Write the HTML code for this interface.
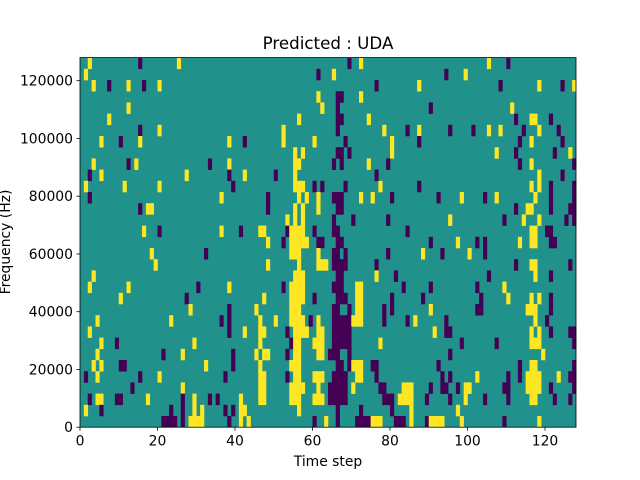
<!DOCTYPE html>
<html><head><meta charset="utf-8">
<style>
body{margin:0;background:#fff;}
svg{display:block;font-family:"DejaVu Sans","Liberation Sans",sans-serif;}
</style></head>
<body>
<svg id="chart" width="640" height="480" viewBox="0 0 640 480">
<rect width="640" height="480" fill="#fff"/>
<text x="328" y="49" font-size="16.7" text-anchor="middle" fill="#000">Predicted : UDA</text>
<g id="cells"></g>
<g id="axes"></g>
<text x="328" y="466" font-size="13.9" text-anchor="middle" fill="#000">Time step</text>
<text transform="translate(10,242) rotate(-90)" font-size="13.9" text-anchor="middle" fill="#000">Frequency (Hz)</text>
</svg>
<script>
// data: 128 time steps x 33 frequency bins (row 0 = top / highest frequency)
const nCols = 128;
const nRows = 33;
const yMax = 128000;
const xTicks = [0, 20, 40, 60, 80, 100, 120];
const yTicks = [0, 20000, 40000, 60000, 80000, 100000, 120000];
const rowCells = [
"2y 15p 25y 69p 72y 105y 110p",
"1y 61p 65y 94p 99y",
"3y 7p 12y 16p 20y 76p 87y 108p 118y 124p 127y",
"61y 66-67p 72y",
"12y 62y 66p 90p 111y",
"7y 56y 66-67p 74y 112p 116-117y 121p",
"15p 20y 52y 66p 78y 84p 87y 95p 101p 105y 108y 114p 118y 123p",
"5y 10p 15y 38y 42p 52y 60y 68p 80y 87p 113p 116y 124p",
"55y 57y 66-67p 69p 80y 107y 112p 122p 126y",
"3y 12p 14y 33p 38y 55-56y 65p 67p 74y 79p 113p 116y 127p",
"2p 5y 27y 38p 42y 50p 55y 76p 118y 124p",
"1y 11y 20y 39p 55-57y 60p 62p 68p 77y 87p 116y 118y 121p 127p",
"2p 36y 48p 56y 58y 61y 65-67p 72y 75y 80p 92p 98y 104p 107y 117y 121p 127p",
"15p 17-18y 48p 55y 57y 61y 66-67p 112p 115-116y 121p 126-127p",
"53y 55y 57y 65p 70p 79p 95y 109p 114y 118y 125p 127p",
"16y 20p 36y 41p 46-47y 53p 54-57y 60p 65-66p 84p 116-117y 120-121p",
"48y 52p 54-58y 61-62p 66-67p 90p 97y 102p 104p 113y 116-117y 121-122p",
"18y 32p 54-56y 61y 65-66p 68p 79p 88y 93p 100y 104p",
"19y 48y 56y 61-63y 65-68p 76p 112p 116-117y 126p",
"3y 55-57y 66-67p 76y 81p 105p 117y 121p",
"2y 12y 30p 38y 52p 54-57y 65-67p 71-72y 83p 90p 102p 109y",
"10y 27p 47y 54-57y 60p 66-68p 71-72y 80p 88p 103p 110y 116y 118y 121p",
"28y 38p 45y 54-56y 65-66p 69p 71-72y 78p 80p 90y 102-103p 115-117y 121p",
"4y 23y 36p 38p 46y 50y 54-57y 59p 61y 65-69p 70-72y 78p 84p 86y 94p 117y 120p",
"2y 38p 42y 46-47y 53p 55-58y 61-62y 65-69p 91y 94-95p 116y 118y 121p 126-127p",
"5y 9p 29y 46y 54p 55-56y 60-62y 65-69p 77y 98p 107p 116-118y 127p",
"4y 21p 26y 39p 45y 47-48y 53p 55-56y 61-62y 64-66p 69p 95p 119y",
"3y 5y 10-11p 32y 39p 46y 54-56y 66-67p 69p 70-72y 75-76p 92p 113p 116-117y 127p",
"1p 4y 15p 20y 37p 46-47y 53p 55-56y 60-62y 65-68p 71-72y 76p 93p 95p 102y 110p 113p 115-118y 123y 126-127p",
"13p 26y 46-47y 54-57y 61y 64-68p 70y 77-78p 83-85y 90p 93-94p 97p 99-100y 109-110p 115-118y 121p 127p",
"2p 4-5y 9-10p 17y 26p 29y 33p 35p 41y 46-47y 54-56y 60-62y 64-68p 78-80p 82-85y 89p 95p 99y 104p 110p 116-117y 122p 126p",
"1y 5p 23p 26p 29y 31y 37p 39p 41-42y 56y 66p 72p 80p 85y 97y",
"21-24p 26p 28-31y 38p 41y 43y 60p 63y 66p 71-74p 75-77y 81-83p 85y 89p 90-93y 98y 109p 118y"
];
const colors = {b:"#21918c", p:"#440154", y:"#fde725"};
const L=80, R=576, T=57.6, B=427.2;
function xScale(c){ return L + c*(R-L)/nCols; }
function rowTop(r){ return T + r*(B-T)/nRows; }
function yScale(v){ return B - v/yMax*(B-T); }
const NS="http://www.w3.org/2000/svg";
const cg=document.getElementById('cells');
const bg=document.createElementNS(NS,'rect');
bg.setAttribute('x',L);bg.setAttribute('y',T);bg.setAttribute('width',R-L);bg.setAttribute('height',B-T);bg.setAttribute('fill',colors.b);


cg.appendChild(bg);
rowCells.forEach((s,r)=>{
  s.trim().split(/\s+/).forEach(tok=>{
    if(!tok) return;
    const t=tok.slice(-1); const rng=tok.slice(0,-1).split('-').map(Number);
    const a=rng[0], b=rng.length>1?rng[1]:rng[0];
    const rc=document.createElementNS(NS,'rect');
    const x0=xScale(a), x1=xScale(b+1), y0=rowTop(r), y1=rowTop(r+1);
    rc.setAttribute('x',x0.toFixed(2));rc.setAttribute('y',y0.toFixed(2));
    rc.setAttribute('width',(x1-x0+0.3).toFixed(2));rc.setAttribute('height',(y1-y0+0.3).toFixed(2));
    rc.setAttribute('fill',colors[t]);
    
    
    cg.appendChild(rc);
  });
});
const ax=document.getElementById('axes');
function add(tag,attrs,txt){const e=document.createElementNS(NS,tag);for(const k in attrs)e.setAttribute(k,attrs[k]);if(txt!==undefined)e.textContent=txt;ax.appendChild(e);return e;}
const frame=add('rect',{x:L,y:T,width:R-L,height:B-T,fill:'none',stroke:'#000','stroke-width':0.8});


xTicks.forEach(v=>{
  const x=xScale(v);
  const tl=add('line',{x1:x,x2:x,y1:B,y2:B+3.5,stroke:'#000','stroke-width':0.8});
  
  
  const tx=add('text',{x:x,y:B+18.5,'font-size':13.9,'text-anchor':'middle',fill:'#000'},String(v));
  
  
});
yTicks.forEach(v=>{
  const y=yScale(v);
  const tl=add('line',{x1:L-3.5,x2:L,y1:y,y2:y,stroke:'#000','stroke-width':0.8});
  
  
  const tx=add('text',{x:L-7,y:y+5,'font-size':13.9,'text-anchor':'end',fill:'#000'},String(v));
  
  
});
</script>
</body></html>
